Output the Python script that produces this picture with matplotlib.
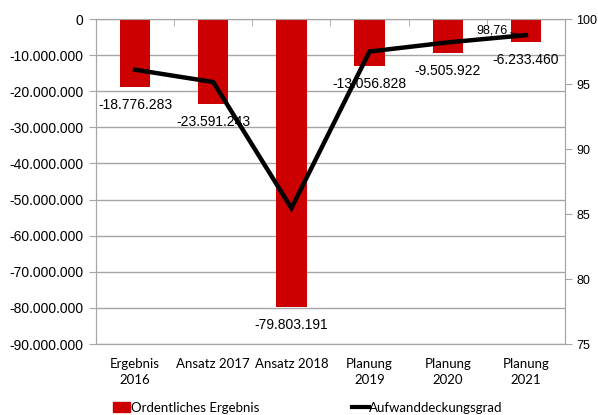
import matplotlib.pyplot as plt
from matplotlib.ticker import FuncFormatter
from matplotlib.lines import Line2D
from matplotlib.patches import Patch

categories = ["Ergebnis\n2016", "Ansatz 2017", "Ansatz 2018", "Planung\n2019", "Planung\n2020", "Planung\n2021"]
ergebnis = [-18776283, -23591243, -79803191, -13056828, -9505922, -6233460]
deckungsgrad = [96.1, 95.15, 85.45, 97.5, 98.2, 98.76]
left_ticks = [0, -10e6, -20e6, -30e6, -40e6, -50e6, -60e6, -70e6, -80e6, -90e6]
right_ticks = [75, 80, 85, 90, 95, 100]

red = "#CC0000"
grid = "#A6A6A6"
num_font = "Liberation Sans"
cat_font = "Lato"

def de_fmt(v, pos=None):
    s = "{:,.0f}".format(v).replace(",", ".")
    return s

fig = plt.figure(figsize=(5.98, 4.15), dpi=100)
ax = fig.add_axes([96 / 598, 1 - 344 / 415, (565 - 96) / 598, (344 - 19) / 415])
ax2 = ax.twinx()

x = list(range(len(categories)))
ax.bar(x, ergebnis, width=0.39, color=red, zorder=3)
ax.set_xlim(-0.5, len(categories) - 0.5)
ax.set_ylim(-90e6, 0)
ax.set_yticks(left_ticks)
ax.yaxis.set_major_formatter(FuncFormatter(de_fmt))
ax.grid(axis="y", color=grid, lw=1, zorder=0)
for lab in ax.get_yticklabels():
    lab.set_fontfamily(num_font)
    lab.set_fontsize(10)
ax.tick_params(axis="y", length=5, color=grid, pad=4)

ax.set_xticks(x)
ax.set_xticklabels(categories, fontfamily=cat_font, fontsize=9.5, linespacing=1.45)
ax.tick_params(axis="x", which="major", length=0, pad=10)
ax.set_xticks([i + 0.5 for i in range(len(categories) - 1)], minor=True)
ax.tick_params(axis="x", which="minor", bottom=False, top=True, direction="in", length=5, color=grid)

for sp in ["left", "bottom", "right", "top"]:
    ax.spines[sp].set_color(grid)
    ax2.spines[sp].set_color(grid)

for xi, v in zip(x, ergebnis):
    ax.annotate(de_fmt(v), (xi, v), xytext=(0, -18), textcoords="offset pixels",
                ha="center", va="center", fontfamily=num_font, fontsize=10, zorder=5)

ax2.plot(x, deckungsgrad, color="black", lw=3.2, zorder=4, solid_joinstyle="miter")
ax2.set_ylim(75, 100)
ax2.set_yticks(right_ticks)
for lab in ax2.get_yticklabels():
    lab.set_fontfamily(num_font)
    lab.set_fontsize(9)
ax2.tick_params(axis="y", length=5, color=grid, pad=3)
ax2.annotate("98,76", (x[-1], deckungsgrad[-1]), xytext=(-34, 5), textcoords="offset pixels",
             ha="center", va="center", fontfamily=num_font, fontsize=9,
             arrowprops=dict(arrowstyle="-", color="black", lw=0.6, shrinkA=0, shrinkB=3))

handles = [Patch(facecolor=red, edgecolor=red), Line2D([0], [0], color="black", lw=3)]
fig.legend(handles, ["Ordentliches Ergebnis", "Aufwanddeckungsgrad"], loc="lower center",
           bbox_to_anchor=(0.515, -0.025), ncol=2, frameon=False, handlelength=1.3,
           handletextpad=0.05, columnspacing=7.0, prop={"family": cat_font, "size": 9.5})

fig.savefig("out.png", dpi=100)
